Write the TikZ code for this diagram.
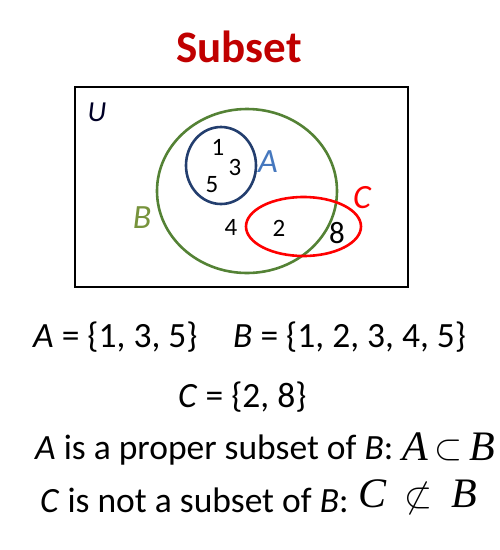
\documentclass[tikz,border=0pt]{standalone}
\usepackage{fontspec}
\setmainfont{Carlito}
\newfontfamily\serifmath{Liberation Serif}
\definecolor{titlered}{RGB}{192,0,0}
\definecolor{bgreen}{RGB}{84,130,53}
\definecolor{bgreenlab}{RGB}{119,147,60}
\definecolor{anavy}{RGB}{35,62,110}
\definecolor{ablue}{RGB}{70,120,190}
\definecolor{cred}{RGB}{255,0,0}
\begin{document}
\begin{tikzpicture}[x=1pt,y=-1pt,
  num/.style={inner sep=0pt,font=\fontsize{25}{25}\selectfont},
  setlab/.style={inner sep=0pt,font=\fontsize{34}{34}\selectfont\itshape},
  eqtext/.style={inner sep=0pt,anchor=west,font=\fontsize{35.5}{35.5}\selectfont},
  mathsym/.style={inner sep=0pt,anchor=west,font=\fontsize{42}{42}\selectfont\serifmath\itshape}]
\useasboundingbox (0,0) rectangle (500,550);
\node[inner sep=0pt,text=titlered,font=\fontsize{45}{45}\selectfont\bfseries] (title) at (239,47) {Subset};
\node[draw=black,line width=1.3pt,minimum width=333pt,minimum height=200pt,inner sep=0pt] (U) at (241.5,187) {};
\node[inner sep=0pt,font=\fontsize{29}{29}\selectfont\itshape,text=black!85!blue] (Ulab) at (97,112) {U};
\draw[bgreen,line width=2.6pt] (247,191) ellipse [x radius=90, y radius=82];
\draw[anavy,line width=2.6pt] (221,165.5) ellipse [x radius=35, y radius=38.5];
\draw[cred,line width=2.6pt] (303.5,226.5) ellipse [x radius=57.5, y radius=29.5];
\node[setlab,text=ablue] (Alab) at (268,162) {A};
\node[setlab,text=bgreenlab] (Blab) at (142,218) {B};
\node[setlab,text=cred] (Clab) at (362,198) {C};
\node[num] (n1) at (218,147) {1};
\node[num] (n3) at (235,167) {3};
\node[num] (n5) at (212,185) {5};
\node[num] (n4) at (231,227) {4};
\node[num] (n2) at (279,228) {2};
\node[num,font=\fontsize{31}{31}\selectfont] (n8) at (337,233) {8};
\node[eqtext] (eqA) at (33,337) {\textit{A} = \{1, 3, 5\}};
\node[eqtext] (eqB) at (233,337) {\textit{B} = \{1, 2, 3, 4, 5\}};
\node[eqtext] (eqC) at (178,397) {\textit{C} = \{2, 8\}};
\node[eqtext] (l1) at (35,450) {\textit{A} is a proper subset of \textit{B}:};
\node[mathsym] (m1) at (402,447) {A\,\raisebox{0.02ex}{\scalebox{1.45}{$\subset$}}\,B};
\node[eqtext] (l2) at (40,500) {\textit{C} is not a subset of \textit{B}:};
\node[mathsym] (m2) at (358,497) {C\;\,\raisebox{0.02ex}{\scalebox{1.45}{$\not\subset$}}\;\,B};
\end{tikzpicture}
\end{document}
